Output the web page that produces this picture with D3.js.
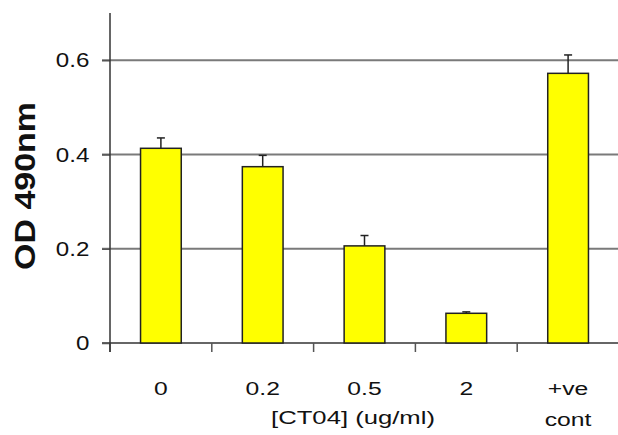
<!DOCTYPE html>
<html>
<head>
<meta charset="utf-8">
<script src="https://cdn.jsdelivr.net/npm/d3@7"></script>
<style>
  body { margin: 0; background: #fff; }
  text { font-family: "Liberation Sans", Arial, sans-serif; fill: #111; }
</style>
</head>
<body>
<div id="chart"></div>
<script>
const categories = ["0", "0.2", "0.5", "2", "+ve cont"];
const od_values = [0.413, 0.374, 0.206, 0.063, 0.572];
const od_errors = [0.022, 0.024, 0.022, 0.003, 0.039];
const y_ticks = [0, 0.2, 0.4, 0.6];
const y_tick_labels = ["0", "0.2", "0.4", "0.6"];

const svgWidth = 618;
const svgHeight = 435;
const plotLeft = 110;
const plotRight = 619;
const plotTop = 13;
const plotBottom = 343;

let mySvg = d3.select("#chart")
    .append("svg")
    .attr("width", svgWidth)
    .attr("height", svgHeight);

let x = d3.scaleBand()
    .domain(categories)
    .range([plotLeft, plotRight])
    .padding(0);

let y = d3.scaleLinear()
    .domain([0, 0.7])
    .range([plotBottom, plotTop]);

//gridlines
mySvg.selectAll("line.grid")
    .data(y_ticks.filter(d => d > 0))
    .enter()
    .append("line")
    .attr("class", "grid")
    .attr("x1", plotLeft - 8)
    .attr("x2", svgWidth)
    .attr("y1", d => y(d))
    .attr("y2", d => y(d))
    .style("stroke", "#7a7a7a")
    .style("stroke-width", 2);

//x axis with ticks at band edges
let x_edges = categories.map(c => x(c)).concat([plotRight]);
mySvg.append("line")
    .attr("x1", plotLeft - 8).attr("x2", svgWidth)
    .attr("y1", plotBottom).attr("y2", plotBottom)
    .style("stroke", "#666").style("stroke-width", 2);
mySvg.selectAll("line.xtick")
    .data(x_edges)
    .enter()
    .append("line")
    .attr("class", "xtick")
    .attr("x1", d => d).attr("x2", d => d)
    .attr("y1", plotBottom).attr("y2", plotBottom + 9)
    .style("stroke", "#555").style("stroke-width", 1.5);

//y axis
let y_axis = d3.axisLeft(y)
    .tickValues(y_ticks)
    .tickFormat((d, i) => y_tick_labels[i])
    .tickSize(8)
    .tickSizeOuter(0);

let yg = mySvg.append("g")
    .attr("transform", "translate(" + plotLeft + ",0)")
    .call(y_axis);
yg.select(".domain").remove();
yg.selectAll(".tick line").style("stroke", "#555").style("stroke-width", 1.5);
yg.selectAll(".tick text")
    .attr("x", -18)
    .style("font-size", "21px")
    .style("fill", "#111")
    .attr("transform", "scale(1.15,1)");

mySvg.append("line")
    .attr("x1", plotLeft).attr("x2", plotLeft)
    .attr("y1", plotTop).attr("y2", plotBottom + 9)
    .style("stroke", "#333").style("stroke-width", 1.5);

//bars
const barW = x.bandwidth() * 0.4;
mySvg.selectAll("rect.bar")
    .data(categories)
    .enter()
    .append("rect")
    .attr("class", "bar")
    .attr("x", d => x(d) + (x.bandwidth() - barW) / 2)
    .attr("y", (d, i) => y(od_values[i]))
    .attr("width", barW)
    .attr("height", (d, i) => y(0) - y(od_values[i]))
    .style("fill", "#ffff00")
    .style("stroke", "#222")
    .style("stroke-width", 1.5);

//error bars (upper only)
let err = mySvg.selectAll("g.err")
    .data(categories)
    .enter()
    .append("g")
    .attr("class", "err")
    .attr("transform", d => "translate(" + (x(d) + x.bandwidth() / 2) + ",0)");
err.append("line")
    .attr("y1", (d, i) => y(od_values[i]))
    .attr("y2", (d, i) => y(od_values[i] + od_errors[i]))
    .style("stroke", "#222").style("stroke-width", 1.5);
err.append("line")
    .attr("x1", -4).attr("x2", 4)
    .attr("y1", (d, i) => y(od_values[i] + od_errors[i]))
    .attr("y2", (d, i) => y(od_values[i] + od_errors[i]))
    .style("stroke", "#222").style("stroke-width", 1.5);

//category labels
let labels = mySvg.selectAll("g.xlab")
    .data(categories)
    .enter()
    .append("g")
    .attr("class", "xlab")
    .attr("transform", d => "translate(" + (x(d) + x.bandwidth() / 2) + ",0) scale(1.3,1)");
labels.each(function (d) {
    const parts = d.split(" ");
    d3.select(this).selectAll("text")
        .data(parts)
        .enter()
        .append("text")
        .attr("y", (p, j) => 395 + j * 31)
        .attr("text-anchor", "middle")
        .style("font-size", "19px")
        .text(p => p);
});

//axis titles
mySvg.append("text")
    .attr("transform", "translate(353,424) scale(1.35,1)")
    .attr("text-anchor", "middle")
    .style("font-size", "19px")
    .text("[CT04] (ug/ml)");

mySvg.append("text")
    .attr("transform", "translate(35,186) rotate(-90)")
    .attr("text-anchor", "middle")
    .style("font-size", "30px")
    .style("font-weight", "bold")
    .attr("textLength", 168)
    .attr("lengthAdjust", "spacingAndGlyphs")
    .text("OD 490nm");
</script>
</body>
</html>
